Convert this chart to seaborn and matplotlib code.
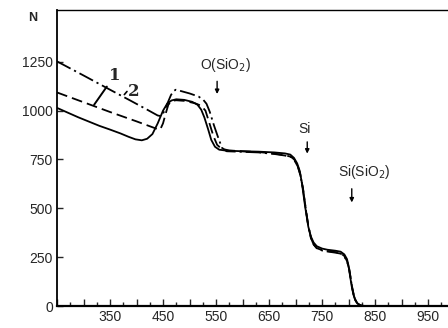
import numpy as np
import pandas as pd
import matplotlib
matplotlib.use("Agg")
import matplotlib.pyplot as plt
from matplotlib.ticker import MultipleLocator, FixedLocator, FuncFormatter
import seaborn as sns

# ---- data ----
solid_x = [250, 270, 290, 310, 330, 350, 370, 385, 398, 410, 420, 430, 440, 450, 458, 466,
           475, 490, 505, 515, 522, 528, 535, 541, 548, 556, 570, 600, 630, 660, 680, 690,
           697, 703, 708, 712, 718, 724, 729, 734, 740, 750, 760, 775, 785, 792, 797, 800,
           803, 806, 809, 812, 816, 822, 830, 990]
solid_N = [1014, 990, 966, 944, 922, 903, 883, 866, 853, 848, 856, 880, 935, 1000, 1036, 1052,
           1058, 1055, 1045, 1030, 1005, 965, 905, 850, 815, 800, 795, 792, 790, 786, 781, 775,
           758, 730, 690, 628, 509, 406, 355, 325, 306, 294, 288, 283, 278, 264, 240, 205,
           150, 99, 60, 35, 15, 4, 0, 0]

dashdot_x = [250, 300, 350, 388, 420, 440, 446, 451, 458, 465, 470, 474, 480, 500, 517, 526,
             532, 538, 546, 553, 561, 570, 590, 630, 660, 680, 692, 698, 704, 709, 714, 719,
             724, 729, 734, 740, 750, 760, 775, 785, 792, 797, 801, 804, 807, 810, 813, 817,
             823, 830, 990]
dashdot_N = [1252, 1180, 1107, 1052, 1005, 975, 972, 990, 1035, 1080, 1100, 1107, 1103, 1088, 1072, 1055,
             1035, 995, 925, 870, 810, 792, 790, 786, 778, 770, 762, 745, 715, 670, 600, 500,
             410, 348, 315, 296, 284, 279, 273, 268, 254, 228, 190, 140, 90, 52, 28, 10,
             2, 0, 0]

dashed_x = [250, 300, 350, 400, 430, 440, 445, 450, 455, 460, 466, 475, 490, 510, 522, 530,
            537, 545, 552, 560, 575, 600, 630, 660, 680, 692, 698, 704, 709, 714, 719, 724,
            729, 734, 740, 750, 760, 775, 785, 792, 797, 801, 804, 807, 810, 813, 817, 823,
            830, 990]
dashed_N = [1093, 1043, 993, 945, 915, 905, 905, 935, 985, 1030, 1050, 1053, 1050, 1038, 1025, 1000,
            940, 870, 825, 805, 796, 792, 788, 780, 772, 763, 748, 718, 672, 602, 502, 410,
            348, 315, 296, 286, 281, 276, 270, 256, 230, 192, 142, 92, 54, 30, 12, 3,
            0, 0]

x_labels = [350, 450, 550, 650, 750, 850, 950]
y_labels = [0, 250, 500, 750, 1000, 1250]

# ---- figure ----
sns.set_style("ticks")
plt.rcParams['font.family'] = ['DejaVu Sans']
fig = plt.figure(figsize=(4.48, 3.28), dpi=100)
ax = fig.add_axes([57/448, 22/328, (452.5 - 57)/448, (306 - 10)/328])

def frame(x, y, name):
    return pd.DataFrame({"E": x, "N": y, "curve": name})

styles = {
    "solid": (0, ()),
    "dashed": (0, (6, 2.8)),
    "dashdot": (0, (8.5, 2.2, 1.2, 2.2)),
}
for name, (xs, ys) in {"solid": (solid_x, solid_N),
                       "dashed": (dashed_x, dashed_N),
                       "dashdot": (dashdot_x, dashdot_N)}.items():
    sns.lineplot(data=frame(xs, ys, name), x="E", y="N", ax=ax, color="black",
                 linewidth=1.3, linestyle=styles[name], legend=False, sort=False)

ax.set_xlim(250, 996)
ax.set_ylim(0, 1515)
ax.set_xlabel("")
ax.set_ylabel("")

ax.xaxis.set_major_locator(MultipleLocator(50))
ax.xaxis.set_minor_locator(MultipleLocator(25))
ax.xaxis.set_major_formatter(FuncFormatter(
    lambda v, p: f"{int(round(v))}" if int(round(v)) in x_labels else ""))
ax.yaxis.set_major_locator(FixedLocator(y_labels))
ax.tick_params(axis="x", which="major", direction="in", length=5, width=1, pad=3,
               labelsize=10)
ax.tick_params(axis="x", which="minor", direction="in", length=3, width=1)
ax.tick_params(axis="y", which="major", direction="in", length=4, width=1, pad=3,
               labelsize=10)
for lab in ax.get_xticklabels() + ax.get_yticklabels():
    lab.set_family("Liberation Sans")

ax.spines["right"].set_visible(False)
ax.spines["top"].set_linewidth(1.0)
ax.spines["left"].set_linewidth(1.3)
ax.spines["bottom"].set_linewidth(1.6)
for s in ax.spines.values():
    s.set_color("black")

# ---- annotations ----
ax.text(-0.061, 0.973, "N", transform=ax.transAxes, ha="center", va="center",
        fontsize=9, fontweight="bold", family="Liberation Sans")

txt_kw = dict(ha="center", va="center", fontsize=10, family="Liberation Sans")
arrow_kw = dict(arrowstyle="-|>", lw=1.0, color="black", mutation_scale=6,
                shrinkA=0, shrinkB=0)

ax.text(567, 1235, "O(SiO$_2$)", **txt_kw)
ax.annotate("", xy=(552, 1085), xytext=(552, 1150), arrowprops=arrow_kw)

ax.text(716, 907, "Si", **txt_kw)
ax.annotate("", xy=(722, 780), xytext=(722, 840), arrowprops=arrow_kw)

ax.text(829, 686, "Si(SiO$_2$)", **txt_kw)
ax.annotate("", xy=(806, 530), xytext=(806, 600), arrowprops=arrow_kw)

ax.text(359, 1180, "1", ha="center", va="center", fontsize=12, fontweight="bold",
        family="DejaVu Serif")
ax.text(395, 1098, "2", ha="center", va="center", fontsize=12, fontweight="bold",
        family="DejaVu Serif")
ax.plot([320, 344], [1030, 1123], color="black", lw=1.4)
ax.plot([377, 382], [1082, 1098], color="black", lw=1.2)

fig.savefig("out.png", dpi=100)
